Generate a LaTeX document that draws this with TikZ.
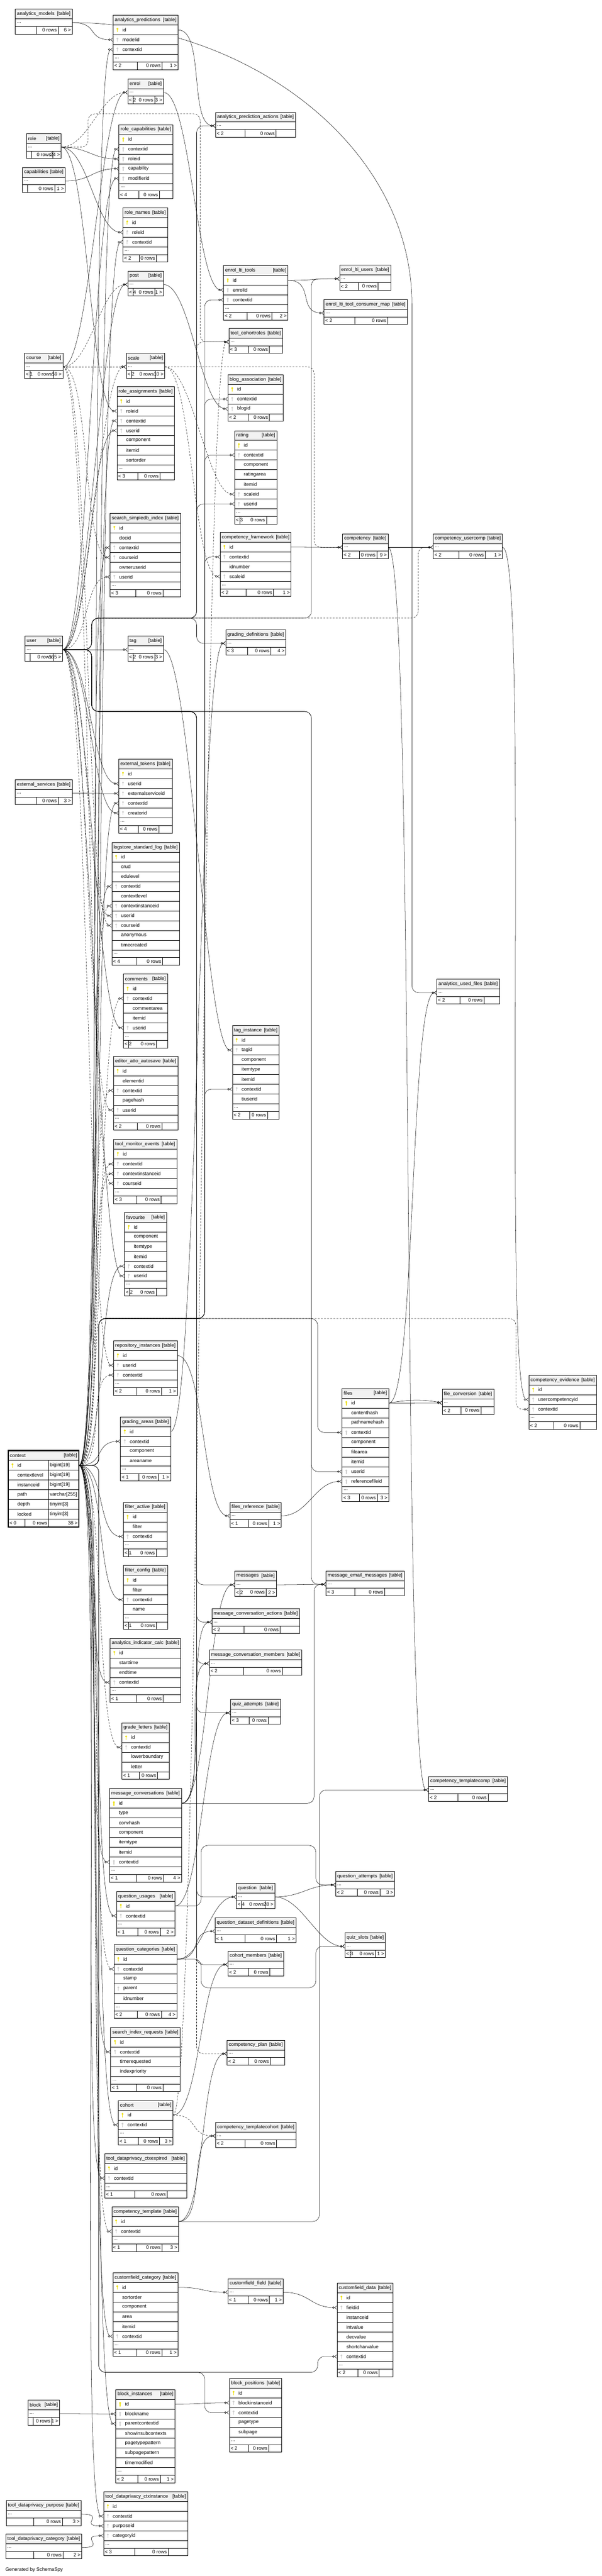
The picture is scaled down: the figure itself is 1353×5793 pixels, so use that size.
\documentclass[tikz,border=0pt]{standalone}
\usepackage{fontspec}
\setmainfont{Liberation Sans}
\usetikzlibrary{arrows.meta,backgrounds}

\definecolor{headfill}{RGB}{242,242,242}
\definecolor{pkkey}{RGB}{236,222,0}
\definecolor{fkkey}{RGB}{205,205,205}

\newlength\footl
\newlength\footr

\tikzset{
  every node/.style={font=\fontsize{11}{13}\selectfont, inner sep=0pt},
  tcell/.style={draw, fill=white, line width=0.7pt, rectangle, anchor=north west, minimum height=22pt},
  thead/.style={tcell, fill=headfill},
  tdots/.style={tcell, minimum height=17pt},
  relation/.style={draw, line width=0.6pt, -{Circle[open,length=5pt,width=5pt] Straight Barb[reversed,length=5pt,width=8pt]}},
  fk/.style={relation, to path={.. controls +(60,0) and +(-60,0) .. (\tikztotarget)}},
  ifk/.style={fk, dash pattern=on 4pt off 3pt},
  fkarc/.style={relation, to path={.. controls +(40,-8) and +(-40,-8) .. (\tikztotarget)}},
  fkr/.style={relation, rounded corners=15pt},
  ifkr/.style={fkr, dash pattern=on 4pt off 3pt},
}

\newcommand{\keyicon}[2]{
  \fill[#2] ([xshift=10pt,yshift=2.5pt]#1.west) circle (2.3pt);
  \fill[#2] ([xshift=9.3pt,yshift=2.5pt]#1.west) rectangle ([xshift=10.7pt,yshift=-5pt]#1.west);
}

\newcommand{\tablefoot}[6]{
  \settowidth\footl{#5}\settowidth\footr{#6}
  \pgfmathsetmacro\lw{#4<100 ? max(\footl+6,12) : 0.37*#4}
  \pgfmathsetmacro\rw{max(\footr+6, min(0.25*#4,44))}
  \node[tdots, minimum width=#4] (#1-foot) at (#2,#3) {};
  \draw[line width=0.7pt] ([xshift=\lw pt]#1-foot.north west) -- ([xshift=\lw pt]#1-foot.south west)
    ([xshift=-\rw pt]#1-foot.north east) -- ([xshift=-\rw pt]#1-foot.south east);
  \node[anchor=west] (#1-from) at ([xshift=3pt]#1-foot.west) {#5};
  \node[anchor=east] (#1-rows) at ([xshift=-\rw pt-3pt]#1-foot.east) {0 rows};
  \node[anchor=east] (#1-to) at ([xshift=-3pt]#1-foot.east) {#6};
}

\newcommand{\smalltable}[6]{
  \node[thead, minimum width=#4] (#1) at (#2,#3) {};
  \node[anchor=west] (#1-title) at ([xshift=4pt]#1.west) {\detokenize{#1}};
  \node[anchor=east] (#1-kind) at ([xshift=-4pt]#1.east) {[table]};
  \node[tdots, minimum width=#4] (#1-dots) at (#2,{#3+22}) {};
  \node[anchor=west] (#1-more) at ([xshift=4pt]#1-dots.west) {...};
  \tablefoot{#1}{#2}{#3+39}{#4}{#5}{#6}
}

\newcommand{\dbtable}[8]{
  \node[thead, minimum width=#4] (#1) at (#2,#3) {};
  \node[anchor=west] (#1-title) at ([xshift=4pt]#1.west) {\detokenize{#1}};
  \node[anchor=east] (#1-kind) at ([xshift=-4pt]#1.east) {[table]};
  \foreach \kind/\col [count=\rr] in {#5} {
    \node[tcell, minimum width=#4] (#1-\col) at (#2,{#3+22*\rr}) {};
    \node[anchor=west] (#1-\col-name) at ([xshift=21pt]#1-\col.west) {\col};
    \if p\kind \keyicon{#1-\col}{pkkey}\fi
    \if f\kind \keyicon{#1-\col}{fkkey}\fi
    \xdef\nrows{\rr}
  }
  \pgfmathsetmacro\rowsend{#3+22+22*\nrows}
  \ifnum#8=1\relax
    \node[tdots, minimum width=#4] (#1-dots) at (#2,\rowsend) {};
    \node[anchor=west] (#1-more) at ([xshift=4pt]#1-dots.west) {...};
    \pgfmathsetmacro\rowsend{\rowsend+17}
  \fi
  \tablefoot{#1}{#2}{\rowsend}{#4}{#6}{#7}
}

\begin{document}
\fontsize{11}{13}\selectfont
\begin{tikzpicture}[x=1pt, y=-1pt]
\useasboundingbox (0,0) rectangle (1353,5793);

\smalltable{analytics_models}{34}{20}{128}{}{6 >}
\dbtable{analytics_predictions}{254}{34}{146}{p/id,f/modelid,f/contextid}{< 2}{1 >}{1}
\smalltable{enrol}{287}{177}{80}{< 2}{3 >}
\smalltable{analytics_prediction_actions}{484}{252}{180}{< 2}{}
\smalltable{role}{59}{300}{78}{}{24 >}
\smalltable{capabilities}{50}{376}{96}{}{1 >}
\dbtable{role_capabilities}{267}{280}{121}{p/id,f/contextid,f/roleid,f/capability,f/modifierid}{< 4}{}{1}
\dbtable{role_names}{276}{467}{100}{p/id,f/roleid,f/contextid}{< 2}{}{1}
\smalltable{post}{287}{609}{80}{< 4}{1 >}
\dbtable{enrol_lti_tools}{502}{597}{145}{p/id,f/enrolid,f/contextid}{< 2}{2 >}{1}
\smalltable{enrol_lti_users}{763}{596}{115}{< 2}{}
\smalltable{enrol_lti_tool_consumer_map}{728}{673}{187}{< 2}{}
\smalltable{tool_cohortroles}{514}{738}{121}{< 3}{}
\smalltable{course}{55}{794}{86}{< 1}{59 >}
\smalltable{scale}{283.5}{794}{86.5}{< 2}{10 >}
\dbtable{role_assignments}{262.5}{869}{129}{p/id,f/roleid,f/contextid,f/userid,n/component,n/itemid,n/sortorder}{< 3}{}{1}
\dbtable{blog_association}{512}{842}{124}{p/id,f/contextid,f/blogid}{< 2}{}{0}
\dbtable{rating}{527}{968}{95}{p/id,f/contextid,n/component,n/ratingarea,n/itemid,f/scaleid,f/userid}{< 3}{}{1}
\dbtable{search_simpledb_index}{247}{1154}{158}{p/id,n/docid,f/contextid,f/courseid,n/owneruserid,f/userid}{< 3}{}{1}
\dbtable{competency_framework}{494.5}{1197}{159.5}{p/id,f/contextid,n/idnumber,f/scaleid}{< 2}{1 >}{1}
\smalltable{competency}{769.5}{1200}{102.5}{< 2}{9 >}
\smalltable{competency_usercomp}{973.5}{1200}{155.5}{< 2}{1 >}
\smalltable{user}{56}{1430}{84}{}{165 >}
\smalltable{tag}{287}{1430}{80}{< 2}{3 >}
\smalltable{grading_definitions}{507}{1416}{135}{< 3}{4 >}
\dbtable{external_tokens}{266.5}{1707}{120}{p/id,f/userid,f/externalserviceid,f/contextid,f/creatorid}{< 4}{}{1}
\smalltable{external_services}{34}{1753}{128}{}{3 >}
\dbtable{logstore_standard_log}{251}{1894}{152}{p/id,n/crud,n/edulevel,f/contextid,n/contextlevel,f/contextinstanceid,f/userid,f/courseid,n/anonymous,n/timecreated}{< 4}{}{1}
\dbtable{comments}{277}{2190}{99}{p/id,f/contextid,n/commentarea,n/itemid,f/userid}{< 2}{}{1}
\smalltable{analytics_used_files}{981.5}{2201.5}{141}{< 2}{}
\dbtable{tag_instance}{522}{2306}{105}{p/id,f/tagid,n/component,n/itemtype,n/itemid,f/contextid,n/tiuserid}{< 2}{}{1}
\dbtable{editor_atto_autosave}{254.5}{2375}{145}{p/id,n/elementid,f/contextid,n/pagehash,f/userid}{< 2}{}{1}
\dbtable{tool_monitor_events}{255}{2562}{142}{p/id,f/contextid,f/contextinstanceid,f/courseid}{< 3}{}{1}
\dbtable{favourite}{279.5}{2726}{94.5}{p/id,n/component,n/itemtype,n/itemid,f/contextid,f/userid}{< 2}{}{1}
\dbtable{repository_instances}{255}{3015}{143}{p/id,f/userid,f/contextid}{< 2}{1 >}{1}
\dbtable{competency_evidence}{1188.5}{3092}{152}{p/id,f/usercompetencyid,f/contextid}{< 2}{}{1}
\dbtable{files}{768.5}{3122}{105}{p/id,n/contenthash,n/pathnamehash,f/contextid,n/component,n/filearea,n/itemid,f/userid,f/referencefileid}{< 3}{3 >}{1}
\smalltable{file_conversion}{993.5}{3124}{116}{< 2}{}
\dbtable{grading_areas}{270.5}{3186}{112.5}{p/id,f/contextid,n/component,n/areaname}{< 1}{1 >}{1}

\node[thead, minimum width=159] (context) at (18,3262) {};
\node[anchor=west] (context-title) at ([xshift=4pt]context.west) {context};
\node[anchor=east] (context-kind) at ([xshift=-4pt]context.east) {[table]};
\foreach \col/\typ [count=\rr] in {id/{bigint[19]},contextlevel/{bigint[19]},instanceid/{bigint[19]},path/{varchar[255]},depth/{tinyint[3]},locked/{tinyint[3]}} {
  \node[tcell, minimum width=159] (context-\col) at (18,{3262+22*\rr}) {};
  \node[anchor=west] (context-\col-name) at ([xshift=21pt]context-\col.west) {\col};
  \node[anchor=west] (context-\col-type) at ([xshift=94pt]context-\col.west) {\typ};
  \draw[line width=0.7pt] ([xshift=91.4pt]context-\col.north west) -- ([xshift=91.4pt]context-\col.south west);
}
\keyicon{context-id}{pkkey}
\node[tdots, minimum width=159] (context-foot) at (18,3416) {};
\draw[line width=0.7pt] ([xshift=37.5pt]context-foot.north west) -- ([xshift=37.5pt]context-foot.south west)
  ([xshift=91.4pt]context-foot.north west) -- ([xshift=91.4pt]context-foot.south west);
\node[anchor=west] (context-from) at ([xshift=3pt]context-foot.west) {< 0};
\node[anchor=east] (context-rows) at ([xshift=88.4pt]context-foot.west) {0 rows};
\node[anchor=east] (context-to) at ([xshift=-3pt]context-foot.east) {38 >};
\draw[line width=2.4pt] (context.north west) rectangle (context-foot.south east);

\dbtable{filter_active}{277}{3378}{98}{p/id,n/filter,f/contextid}{< 1}{}{1}
\smalltable{files_reference}{516.5}{3378}{115.5}{< 1}{1 >}
\dbtable{filter_config}{277}{3520}{99}{p/id,n/filter,f/contextid,n/name}{< 1}{}{1}
\smalltable{messages}{527.5}{3533}{93.5}{< 2}{2 >}
\smalltable{message_email_messages}{732.5}{3532}{175.5}{< 3}{}
\smalltable{message_conversation_actions}{476}{3617}{197}{< 2}{}
\dbtable{analytics_indicator_calc}{247}{3684}{159}{p/id,n/starttime,n/endtime,f/contextid}{< 1}{}{1}
\smalltable{message_conversation_members}{470}{3710}{208}{< 2}{}
\smalltable{quiz_attempts}{518}{3821}{112}{< 3}{}
\dbtable{grade_letters}{273.5}{3874}{106.5}{p/id,f/contextid,n/lowerboundary,n/letter}{< 1}{}{0}
\smalltable{competency_templatecomp}{963}{3994.5}{177.5}{< 2}{}
\dbtable{message_conversations}{246}{4022}{161.5}{p/id,n/type,n/convhash,n/component,n/itemtype,n/itemid,f/contextid}{< 1}{4 >}{1}
\smalltable{question_attempts}{754}{4208}{132.5}{< 2}{3 >}
\smalltable{question}{531}{4235}{86}{< 4}{28 >}
\dbtable{question_usages}{261.5}{4253}{131}{p/id,f/contextid}{< 1}{2 >}{1}
\smalltable{question_dataset_definitions}{483}{4312}{182}{< 1}{1 >}
\smalltable{quiz_slots}{775}{4346}{91}{< 3}{1 >}
\dbtable{question_categories}{256}{4372.5}{141}{p/id,f/contextid,n/stamp,f/parent,n/idnumber}{< 2}{4 >}{1}
\smalltable{cohort_members}{512}{4387}{125}{< 2}{}
\dbtable{search_index_requests}{248.5}{4559}{156}{p/id,f/contextid,n/timerequested,n/indexpriority}{< 1}{}{1}
\smalltable{competency_plan}{510}{4587.5}{129}{< 2}{}
\dbtable{cohort}{265.5}{4723}{123}{p/id,f/contextid}{< 1}{3 >}{1}
\smalltable{competency_templatecohort}{484}{4772.5}{181}{< 2}{}
\dbtable{tool_dataprivacy_ctxexpired}{235}{4843}{184}{p/id,f/contextid}{< 1}{}{1}
\dbtable{competency_template}{251}{4962.5}{150}{p/id,f/contextid}{< 1}{3 >}{1}
\dbtable{customfield_category}{253.5}{5110.5}{146}{p/id,n/sortorder,n/component,n/area,n/itemid,f/contextid}{< 1}{1 >}{1}
\smalltable{customfield_field}{512}{5124}{124}{< 1}{1 >}
\dbtable{customfield_data}{757.5}{5134}{125.5}{p/id,f/fieldid,n/instanceid,n/intvalue,n/decvalue,n/shortcharvalue,f/contextid}{< 2}{}{1}
\dbtable{block_positions}{515}{5348}{118}{p/id,f/blockinstanceid,f/contextid,n/pagetype,n/subpage}{< 2}{}{1}
\dbtable{block_instances}{260}{5373}{133}{p/id,f/blockname,f/parentcontextid,n/showinsubcontexts,n/pagetypepattern,n/subpagepattern,n/timemodified}{< 2}{1 >}{1}
\smalltable{block}{62.5}{5397}{71}{}{1 >}
\dbtable{tool_dataprivacy_ctxinstance}{232.5}{5603}{189}{p/id,f/contextid,f/purposeid,f/categoryid}{< 3}{}{1}
\smalltable{tool_dataprivacy_purpose}{13.5}{5623}{168}{}{3 >}
\smalltable{tool_dataprivacy_category}{12.5}{5698}{171}{}{2 >}

\node[anchor=west] (credit) at (12,5779) {Generated by SchemaSpy};

\coordinate (roleL) at (198,0);
\coordinate (userL) at (206,0);
\coordinate (ctxL) at (222,0);
\coordinate (userB) at (442,0);
\coordinate (roleB) at (450,0);
\coordinate (qB) at (452,0);
\coordinate (ctxB) at (460,0);
\coordinate (userC) at (700,0);
\coordinate (scaleC) at (706,0);
\coordinate (msgC) at (706,0);
\coordinate (qC) at (710,0);
\coordinate (ctxC) at (714,0);
\coordinate (tplC) at (718,0);
\coordinate (userD) at (940,0);
\coordinate (ctxE) at (1160,0);
\coordinate (arcTop) at (926,700);
\coordinate (roleGap) at (0,256);
\coordinate (userUp) at (0,1390);
\coordinate (userDown) at (0,1600);
\coordinate (ctxUp) at (0,2965);
\coordinate (ctxDown) at (0,5335);
\coordinate (quGap) at (0,4150);
\coordinate (qcGap) at (0,4470);

\begin{scope}[on background layer]
\fill[white] (0,0) rectangle (1353,5793);

\path (analytics_models-dots.east) edge[fk] (analytics_predictions-modelid.west);
\draw[fkr] (analytics_models-dots.east) to[out=0,in=90,distance=380pt] (arcTop) |- (analytics_used_files-dots.west);
\path (analytics_predictions-id.east) edge[fk] (analytics_prediction_actions-dots.west);
\path (files-id.east) edge[fk] (analytics_used_files-dots.west);
\path (enrol-dots.east) edge[fk] (enrol_lti_tools-enrolid.west);
\path (enrol_lti_tools-id.east) edge[fk] (enrol_lti_users-dots.west);
\path (enrol_lti_tools-id.east) edge[fk] (enrol_lti_tool_consumer_map-dots.west);

\path (role-dots.east) edge[ifk] (enrol-dots.west);
\path (role-dots.east) edge[fk] (role_capabilities-roleid.west);
\path (role-dots.east) edge[fk] (role_names-roleid.west);
\path (role-dots.east) edge[fk] (role_assignments-roleid.west);
\draw[ifkr] (role-dots.east) -| (roleL |- roleGap) -| (roleB |- tool_cohortroles-dots) -- (tool_cohortroles-dots.west);
\path (capabilities-dots.east) edge[fk] (role_capabilities-capability.west);

\path (course-dots.east) edge[fk] (enrol-dots.west);
\path (course-dots.east) edge[ifk] (post-dots.west);
\path (course-dots.east) edge[ifk] (scale-dots.west);
\path (course-dots.east) edge[ifk] (search_simpledb_index-courseid.west);
\path (course-dots.east) edge[ifk] (logstore_standard_log-courseid.west);
\path (course-dots.east) edge[ifk] (tool_monitor_events-courseid.west);

\path (post-dots.east) edge[fk] (blog_association-blogid.west);
\path (scale-dots.east) edge[ifk] (rating-scaleid.west);
\path (scale-dots.east) edge[ifk] (competency_framework-scaleid.west);
\draw[ifkr] (scale-dots.east) -| (scaleC |- competency-dots) -- (competency-dots.west);
\path (tag-dots.east) edge[fk] (tag_instance-tagid.west);

\path (competency_framework-id.east) edge[fk] (competency-dots.west);
\path (competency-dots.east) edge[fk] (competency_usercomp-dots.west);
\path (competency-dots.east) edge[fk] (competency_templatecomp-dots.west);
\path (competency_usercomp-dots.east) edge[fk] (competency_evidence-usercompetencyid.west);
\path (competency_template-id.east) edge[fk] (competency_templatecohort-dots.west);
\path (competency_template-id.east) edge[fk] (competency_plan-dots.west);
\draw[fkr] (competency_template-id.east) -| (tplC |- competency_templatecomp-dots) -- (competency_templatecomp-dots.west);

\path (grading_areas-id.east) edge[fk] (grading_definitions-dots.west);
\path (external_services-dots.east) edge[fk] (external_tokens-externalserviceid.west);
\path (repository_instances-id.east) edge[fk] (files_reference-dots.west);
\path (files_reference-dots.east) edge[fk] (files-referencefileid.west);
\path (files-id.east) edge[fk] (file_conversion-dots.west);
\path (files-id.east) edge[fkarc] (file_conversion-dots.west);

\path (messages-dots.east) edge[fk] (message_email_messages-dots.west);
\path (message_conversations-id.east) edge[fk] (messages-dots.west);
\path (message_conversations-id.east) edge[fk] (message_conversation_actions-dots.west);
\path (message_conversations-id.east) edge[fk] (message_conversation_members-dots.west);
\draw[fkr] (message_conversations-id.east) -| (msgC |- message_email_messages-dots) -- (message_email_messages-dots.west);

\path (question_usages-id.east) edge[fk] (quiz_attempts-dots.west);
\draw[fkr] (question_usages-id.east) -| (qB |- quGap) -| (qC |- question_attempts-dots) -- (question_attempts-dots.west);
\path (question-dots.east) edge[fk] (question_attempts-dots.west);
\path (question-dots.east) edge[fk] (quiz_slots-dots.west);
\path (question_categories-id.east) edge[fk] (question-dots.west);
\path (question_categories-id.east) edge[fk] (question_dataset_definitions-dots.west);
\draw[fkr] (question_categories-id.east) -| (qB |- qcGap) -| (qC |- quiz_slots-dots) -- (quiz_slots-dots.west);

\path (cohort-id.east) edge[fk] (cohort_members-dots.west);
\path (cohort-id.east) edge[ifk] (competency_templatecohort-dots.west);
\path (cohort-id.east) edge[ifk] (tool_cohortroles-dots.west);
\path (customfield_category-id.east) edge[fk] (customfield_field-dots.west);
\path (customfield_field-dots.east) edge[fk] (customfield_data-fieldid.west);
\path (block-dots.east) edge[fk] (block_instances-blockname.west);
\path (block_instances-id.east) edge[fk] (block_positions-blockinstanceid.west);
\path (tool_dataprivacy_purpose-dots.east) edge[fk] (tool_dataprivacy_ctxinstance-purposeid.west);
\path (tool_dataprivacy_category-dots.east) edge[fk] (tool_dataprivacy_ctxinstance-categoryid.west);

\path (user-dots.east) edge[fk] (role_capabilities-modifierid.west);
\path (user-dots.east) edge[fk] (role_assignments-userid.west);
\path (user-dots.east) edge[ifk] (search_simpledb_index-userid.west);
\path (user-dots.east) edge[fk] (post-dots.west);
\path (user-dots.east) edge[ifk] (scale-dots.west);
\path (user-dots.east) edge[fk] (tag-dots.west);
\path (user-dots.east) edge[fk] (external_tokens-userid.west);
\path (user-dots.east) edge[fk] (external_tokens-creatorid.west);
\path (user-dots.east) edge[ifk] (logstore_standard_log-userid.west);
\path (user-dots.east) edge[fk] (comments-userid.west);
\path (user-dots.east) edge[ifk] (editor_atto_autosave-userid.west);
\path (user-dots.east) edge[fk] (favourite-userid.west);
\path (user-dots.east) edge[ifk] (repository_instances-userid.west);
\draw[fkr] (user-dots.east) -| (userL |- userUp) -| (userB |- analytics_prediction_actions-dots) -- (analytics_prediction_actions-dots.west);
\draw[ifkr] (user-dots.east) -| (userL |- userUp) -| (userB |- tool_cohortroles-dots) -- (tool_cohortroles-dots.west);
\draw[fkr] (user-dots.east) -| (userL |- userUp) -| (userB |- rating-userid) -- (rating-userid.west);
\draw[fkr] (user-dots.east) -| (userL |- userUp) -| (userB |- grading_definitions-dots) -- (grading_definitions-dots.west);
\draw[fkr] (user-dots.east) -| (userL |- userUp) -| (userC |- enrol_lti_users-dots) -- (enrol_lti_users-dots.west);
\draw[ifkr] (user-dots.east) -| (userL |- userUp) -| (userD |- competency_usercomp-dots) -- (competency_usercomp-dots.west);
\draw[fkr] (user-dots.east) -| (userL |- userDown) -| (userB |- messages-dots) -- (messages-dots.west);
\draw[fkr] (user-dots.east) -| (userL |- userDown) -| (userB |- message_conversation_actions-dots) -- (message_conversation_actions-dots.west);
\draw[fkr] (user-dots.east) -| (userL |- userDown) -| (userB |- message_conversation_members-dots) -- (message_conversation_members-dots.west);
\draw[fkr] (user-dots.east) -| (userL |- userDown) -| (userB |- quiz_attempts-dots) -- (quiz_attempts-dots.west);
\draw[fkr] (user-dots.east) -| (userL |- userDown) -| (userB |- question-dots) -- (question-dots.west);
\draw[fkr] (user-dots.east) -| (userL |- userDown) -| (userB |- cohort_members-dots) -- (cohort_members-dots.west);
\draw[ifkr] (user-dots.east) -| (userL |- userDown) -| (userB |- competency_plan-dots) -- (competency_plan-dots.west);
\draw[fkr] (user-dots.east) -| (userL |- userDown) -| (userC |- files-userid) -- (files-userid.west);
\draw[fkr] (user-dots.east) -| (userL |- userDown) -| (userC |- message_email_messages-dots) -- (message_email_messages-dots.west);

\path (context-id.east) edge[fk] (analytics_predictions-contextid.west);
\path (context-id.east) edge[fk] (role_capabilities-contextid.west);
\path (context-id.east) edge[fk] (role_names-contextid.west);
\path (context-id.east) edge[fk] (role_assignments-contextid.west);
\path (context-id.east) edge[fk] (search_simpledb_index-contextid.west);
\path (context-id.east) edge[fk] (external_tokens-contextid.west);
\path (context-id.east) edge[fk] (logstore_standard_log-contextid.west);
\path (context-id.east) edge[ifk] (logstore_standard_log-contextinstanceid.west);
\path (context-id.east) edge[ifk] (comments-contextid.west);
\path (context-id.east) edge[ifk] (editor_atto_autosave-contextid.west);
\path (context-id.east) edge[ifk] (tool_monitor_events-contextid.west);
\path (context-id.east) edge[ifk] (tool_monitor_events-contextinstanceid.west);
\path (context-id.east) edge[fk] (favourite-contextid.west);
\path (context-id.east) edge[ifk] (repository_instances-contextid.west);
\path (context-id.east) edge[fk] (grading_areas-contextid.west);
\path (context-id.east) edge[fk] (filter_active-contextid.west);
\path (context-id.east) edge[fk] (filter_config-contextid.west);
\path (context-id.east) edge[fk] (analytics_indicator_calc-contextid.west);
\path (context-id.east) edge[ifk] (grade_letters-contextid.west);
\path (context-id.east) edge[fk] (message_conversations-contextid.west);
\path (context-id.east) edge[fk] (question_usages-contextid.west);
\path (context-id.east) edge[ifk] (question_categories-contextid.west);
\path (context-id.east) edge[fk] (search_index_requests-contextid.west);
\path (context-id.east) edge[fk] (cohort-contextid.west);
\path (context-id.east) edge[fk] (tool_dataprivacy_ctxexpired-contextid.west);
\path (context-id.east) edge[ifk] (competency_template-contextid.west);
\path (context-id.east) edge[fk] (customfield_category-contextid.west);
\path (context-id.east) edge[fk] (block_instances-parentcontextid.west);
\path (context-id.east) edge[fk] (tool_dataprivacy_ctxinstance-contextid.west);
\draw[fkr] (context-id.east) -| (ctxL |- ctxUp) -| (ctxB |- enrol_lti_tools-contextid) -- (enrol_lti_tools-contextid.west);
\draw[fkr] (context-id.east) -| (ctxL |- ctxUp) -| (ctxB |- blog_association-contextid) -- (blog_association-contextid.west);
\draw[fkr] (context-id.east) -| (ctxL |- ctxUp) -| (ctxB |- rating-contextid) -- (rating-contextid.west);
\draw[fkr] (context-id.east) -| (ctxL |- ctxUp) -| (ctxB |- competency_framework-contextid) -- (competency_framework-contextid.west);
\draw[fkr] (context-id.east) -| (ctxL |- ctxUp) -| (ctxB |- tag_instance-contextid) -- (tag_instance-contextid.west);
\draw[fkr] (context-id.east) -| (ctxL |- ctxUp) -| (ctxC |- files-contextid) -- (files-contextid.west);
\draw[ifkr] (context-id.east) -| (ctxL |- ctxUp) -| (ctxE |- competency_evidence-contextid) -- (competency_evidence-contextid.west);
\draw[fkr] (context-id.east) -| (ctxL |- ctxDown) -| (ctxB |- block_positions-contextid) -- (block_positions-contextid.west);
\draw[fkr] (context-id.east) -| (ctxL |- ctxDown) -| (ctxC |- customfield_data-contextid) -- (customfield_data-contextid.west);
\end{scope}
\end{tikzpicture}
\end{document}
